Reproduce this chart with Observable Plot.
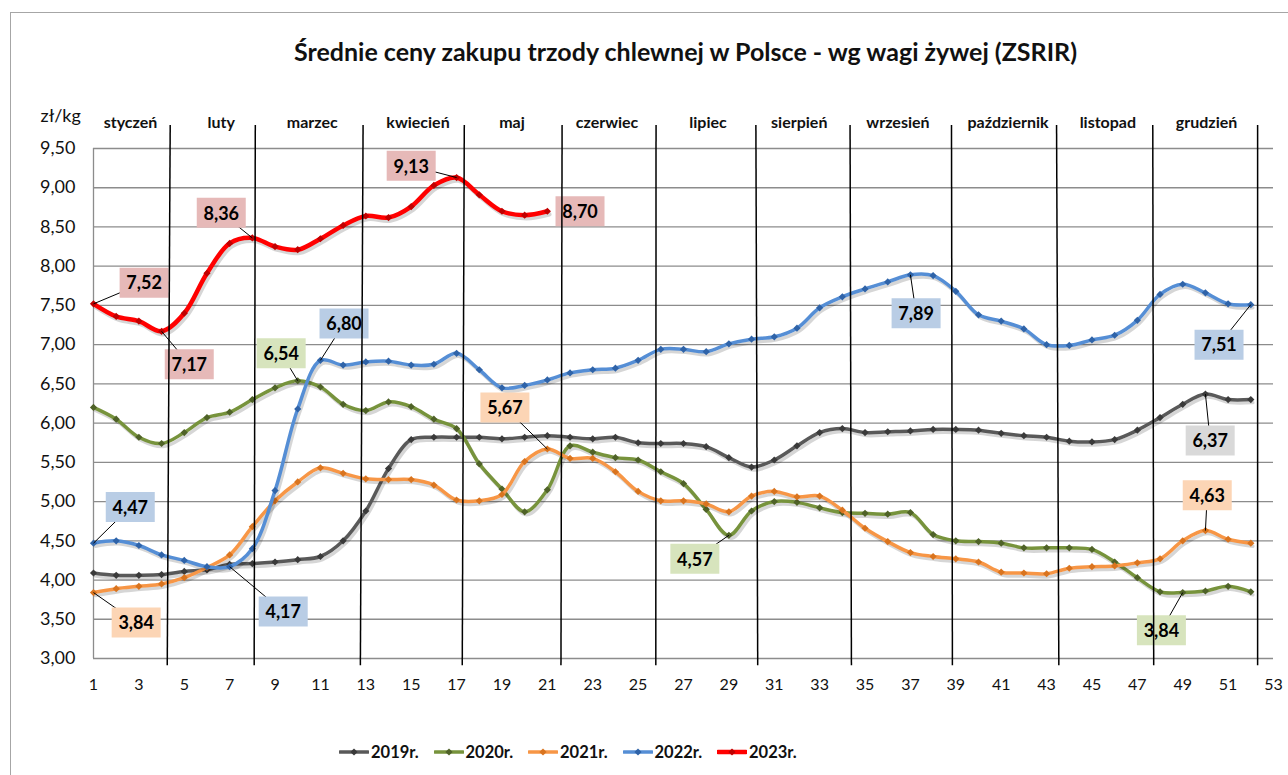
<!DOCTYPE html>
<html>
<head>
<meta charset="utf-8">
<script src="https://cdn.jsdelivr.net/npm/d3@7"></script>
<script src="https://cdn.jsdelivr.net/npm/@observablehq/plot@0.6"></script>
<style>
  html, body { margin: 0; padding: 0; background: #fff; overflow: hidden; }
  #wrap { position: relative; width: 1288px; height: 775px; font-family: Lato, "Open Sans", sans-serif; }
  #frame { position: absolute; left: 10px; top: 12px; width: 1400px; height: 900px; border: 1.5px solid #a6a6a6; box-sizing: border-box; }
  #chart { position: absolute; left: 0; top: 0; }
  #legend { position: absolute; top: 742px; left: 339px; display: flex; font-weight: bold; font-size: 16.5px; color: #111; }
  #legend .item { width: 94.5px; display: flex; align-items: center; white-space: nowrap; }
  #legend svg { margin-right: 2px; }
</style>
</head>
<body>
<div id="wrap">
  <div id="frame"></div>
  <div id="chart"></div>
  <div id="legend"></div>
</div>
<script>
// ---- data ----
const seriesNames = ["2019r.", "2020r.", "2021r.", "2022r.", "2023r."];
const y2019 = [4.09,4.06,4.06,4.07,4.11,4.13,4.20,4.21,4.23,4.26,4.30,4.50,4.88,5.42,5.79,5.82,5.82,5.82,5.80,5.82,5.84,5.82,5.80,5.82,5.75,5.74,5.74,5.70,5.56,5.44,5.53,5.71,5.88,5.93,5.88,5.89,5.90,5.92,5.92,5.91,5.87,5.84,5.82,5.77,5.76,5.79,5.91,6.07,6.24,6.37,6.30,6.30];
const y2020 = [6.20,6.05,5.82,5.74,5.88,6.07,6.14,6.30,6.45,6.54,6.46,6.24,6.16,6.27,6.21,6.05,5.93,5.48,5.16,4.87,5.15,5.71,5.63,5.56,5.53,5.38,5.23,4.90,4.57,4.88,5.00,4.99,4.92,4.86,4.85,4.84,4.86,4.58,4.50,4.49,4.47,4.41,4.41,4.41,4.39,4.23,4.03,3.85,3.84,3.86,3.92,3.85];
const y2021 = [3.84,3.89,3.92,3.95,4.03,4.16,4.32,4.68,5.01,5.25,5.43,5.36,5.29,5.28,5.28,5.21,5.02,5.01,5.09,5.51,5.67,5.55,5.55,5.38,5.13,5.01,5.01,4.97,4.87,5.07,5.13,5.06,5.07,4.89,4.66,4.49,4.35,4.30,4.27,4.23,4.10,4.09,4.08,4.15,4.17,4.18,4.22,4.27,4.50,4.63,4.52,4.47];
const y2022 = [4.47,4.50,4.44,4.32,4.25,4.17,4.17,4.40,5.14,6.18,6.80,6.74,6.78,6.79,6.74,6.75,6.89,6.68,6.45,6.48,6.55,6.64,6.68,6.70,6.80,6.94,6.94,6.91,7.01,7.07,7.10,7.21,7.47,7.61,7.71,7.80,7.89,7.88,7.68,7.38,7.30,7.20,7.00,6.99,7.06,7.12,7.31,7.64,7.77,7.66,7.52,7.51];
const y2023 = [7.52,7.36,7.30,7.17,7.40,7.91,8.29,8.36,8.25,8.21,8.35,8.52,8.64,8.62,8.76,9.03,9.13,8.91,8.70,8.65,8.70];
const seriesValues = [y2019, y2020, y2021, y2022, y2023];

const monthNames = ["styczeń","luty","marzec","kwiecień","maj","czerwiec","lipiec","sierpień","wrzesień","październik","listopad","grudzień"];
const xTicks = d3.range(1, 54, 2);
const yTicks = d3.range(3, 9.51, 0.5);

// labelled points: series index, week
const labelSeries = [4, 4, 4, 4, 4, 3, 1, 3, 3, 2, 2, 1, 3, 3, 0, 2, 1];
const labelWeek   = [1, 4, 8, 17, 21, 11, 10, 1, 7, 1, 21, 29, 37, 52, 50, 50, 49];

// ---- layout (annotation + month separator placement, in axis units) ----
const labelBoxX = [3.23, 5.22, 6.63, 15.0, 22.44, 12.04, 9.27, 2.62, 9.36, 2.88, 19.13, 27.5, 37.25, 50.6, 50.21, 50.08, 48.06];
const labelBoxY = [7.79, 6.75, 8.68, 9.28, 8.70, 7.27, 6.89, 4.93, 3.60, 3.46, 6.20, 4.27, 7.40, 7.00, 5.78, 5.08, 3.36];
const labelLeader = [1,1,1,1,0,1,1,1,1,1,1,1,1,1,1,1,1];
const monthCenter = [2.63, 6.63, 10.64, 15.3, 19.44, 23.63, 28.08, 32.1, 36.45, 41.3, 45.7, 50.05];
const sepTop    = [4.38, 8.13, 12.88, 17.34, 21.65, 25.79, 30.19, 34.34, 38.81, 43.44, 47.68, 52.30];
const sepBottom = [4.25, 8.08, 12.76, 17.25, 21.60, 25.78, 30.27, 34.40, 38.85, 43.54, 47.72, 52.30];

// ---- styles ----
const lineColors   = ["#595959", "#77933c", "#f79646", "#558ed5", "#ff0000"];
const markerColors = ["#3a3a3a", "#4f6228", "#d9741f", "#2f63a8", "#c00000"];
const boxColors    = ["#d9d9d9", "#d7e4bd", "#fcd5b5", "#b9cde5", "#e6b9b8"];
const lineWidths   = [3.5, 3.5, 3.5, 3.5, 4.5];

const fmt = v => v.toFixed(2).replace(".", ",");

const table = seriesNames.flatMap((s, i) => seriesValues[i].map((v, j) => ({series: s, si: i, week: j + 1, value: v})));
const labels = labelSeries.map((si, k) => ({
  si, week: labelWeek[k], value: seriesValues[si][labelWeek[k] - 1],
  bx: labelBoxX[k], by: labelBoxY[k], leader: labelLeader[k]
}));
const seps = sepTop.map((t, k) => ({t, b: sepBottom[k]}));

const boxSymbol = { draw(ctx) { ctx.rect(-24.5, -15, 49, 30); } };
const diamond = { draw(ctx) { const r = 3.6; ctx.moveTo(0, -r); ctx.lineTo(r, 0); ctx.lineTo(0, r); ctx.lineTo(-r, 0); ctx.closePath(); } };

const marks = [];
// grid
marks.push(Plot.ruleY(yTicks, {y: d => d, stroke: "#8c8c8c", strokeWidth: 1.3}));
marks.push(Plot.ruleX([1], {x: d => d, y1: 3, y2: 9.5, stroke: "#8c8c8c", strokeWidth: 1.3}));
// tick labels
marks.push(Plot.text(yTicks, {x: 1, y: d => d, text: d => fmt(d), dx: -18, textAnchor: "end", fontSize: 18, fill: "#111"}));
marks.push(Plot.text(xTicks, {x: d => d, y: 3, text: d => String(d), dy: 26, fontSize: 16, fill: "#111"}));
// series
seriesNames.forEach((s, i) => {
  const d = table.filter(r => r.si === i);
  marks.push(Plot.line(d, {x: "week", y: "value", curve: "catmull-rom", stroke: "#000", strokeOpacity: 0.16, strokeWidth: lineWidths[i], dx: 2, dy: 3}));
  marks.push(Plot.line(d, {x: "week", y: "value", curve: "catmull-rom", stroke: lineColors[i], strokeWidth: lineWidths[i]}));
  marks.push(Plot.dot(d, {x: "week", y: "value", symbol: diamond, fill: markerColors[i], stroke: "none", r: 3}));
});
// annotations
marks.push(Plot.link(labels.filter(l => l.leader), {x1: "week", y1: "value", x2: "bx", y2: "by", stroke: "#000", strokeWidth: 1}));
[0,1,2,3,4].forEach(si => {
  const d = labels.filter(l => l.si === si);
  marks.push(Plot.dot(d, {x: "bx", y: "by", symbol: boxSymbol, fill: boxColors[si], stroke: "none", r: 5}));
});
marks.push(Plot.text(labels, {x: "bx", y: "by", text: d => fmt(d.value), fontSize: 18, fontWeight: "bold", fill: "#000", dy: 1}));
// month separators and names
marks.push(Plot.link(seps, {x1: "t", x2: "b", y1: 9.80, y2: 2.915, stroke: "#000", strokeWidth: 1.5}));
marks.push(Plot.text(monthNames, {x: (d, i) => monthCenter[i], frameAnchor: "top", lineAnchor: "middle", dy: -26, text: d => d, fontSize: 16, fontWeight: "bold", fill: "#111"}));
// axis unit & title
marks.push(Plot.text(["zł/kg"], {frameAnchor: "top-left", lineAnchor: "middle", dx: -53, dy: -32, textAnchor: "start", text: d => d, fontSize: 18, fill: "#111"}));
marks.push(Plot.text(["Średnie ceny zakupu trzody chlewnej w Polsce - wg wagi żywej (ZSRIR)"], {frameAnchor: "top", lineAnchor: "middle", dx: 2, dy: -96, text: d => d, fontSize: 25, fontWeight: "bold", fill: "#111"}));

const chart = Plot.plot({
  width: 1288,
  height: 775,
  marginLeft: 93,
  marginRight: 15,
  marginTop: 148,
  marginBottom: 117,
  x: {domain: [1, 53], axis: null},
  y: {domain: [3, 9.5], axis: null},
  style: {background: "transparent", fontFamily: "Lato, 'Open Sans', sans-serif", overflow: "visible"},
  marks
});
document.getElementById("chart").appendChild(chart);

// legend
const legend = document.getElementById("legend");
seriesNames.forEach((s, i) => {
  const item = document.createElement("div");
  item.className = "item";
  item.innerHTML = `<svg width="30" height="14"><line x1="1" y1="7" x2="29" y2="7" stroke="${lineColors[i]}" stroke-width="${lineWidths[i]}" stroke-linecap="round"/><path d="M15,3.4L18.6,7L15,10.6L11.4,7Z" fill="${markerColors[i]}"/></svg><span>${s}</span>`;
  legend.appendChild(item);
});
</script>
</body>
</html>
